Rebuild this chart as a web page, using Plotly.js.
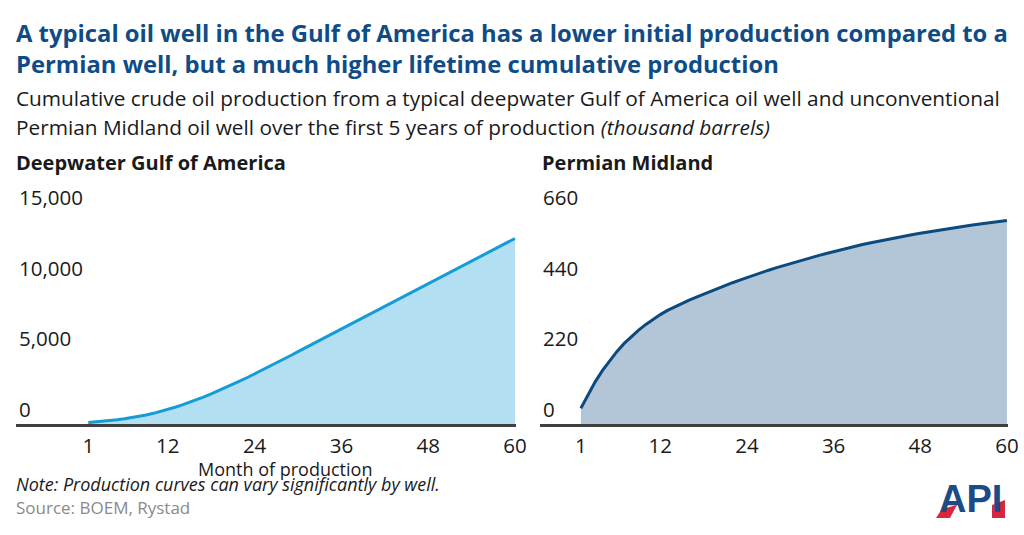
<!DOCTYPE html>
<html>
<head>
<meta charset="utf-8">
<script src="https://cdn.plot.ly/plotly-3.0.1.min.js"></script>
<style>
  html, body { margin: 0; padding: 0; background: #ffffff; }
  #chart { width: 1024px; height: 535px; }
</style>
</head>
<body>
<div id="chart"></div>
<script>
// ---------- Data ----------
const months = [1,2,3,4,5,6,7,8,9,10,11,12,13,14,15,16,17,18,19,20,
                21,22,23,24,25,26,27,28,29,30,31,32,33,34,35,36,37,38,39,40,
                41,42,43,44,45,46,47,48,49,50,51,52,53,54,55,56,57,58,59,60];

// Deepwater Gulf of America, cumulative (thousand barrels)
const gulfCumulative = [100,140,185,237,297,365,443,533,637,755,
                        887,1029,1183,1350,1530,1722,1924,2134,2352,2577,
                        2809,3047,3291,3541,3796,4055,4317,4582,4849,5116,
                        5383,5650,5917,6184,6451,6718,6985,7252,7519,7786,
                        8053,8320,8587,8854,9121,9388,9655,9922,10189,10456,
                        10723,10990,11257,11524,11791,12058,12325,12592,12859,13126];

// Permian Midland, cumulative (thousand barrels)
const permianCumulative = [49,93,132,167,198,226,251,273,292.5,310,
                           326,340.5,353.5,365,375.5,385.5,395,404.3,413.4,422.4,
                           431.2,439.8,448.1,456.2,464,471.5,478.8,485.9,492.8,499.5,
                           506,512.3,518.6,524.8,530.8,536.7,542.4,548,553.4,558.6,
                           563.6,568.4,573,577.4,581.7,585.9,590,594,597.8,601.5,
                           605.1,608.6,612,615.3,618.5,621.6,624.7,627.7,630.6,633.5];

const xTickVals = [1, 12, 24, 36, 48, 60];
const gulfTickVals = [0, 5000, 10000, 15000];
const permianTickVals = [0, 220, 440, 660];

const titleLine1 = "A typical oil well in the Gulf of America has a lower initial production compared to a";
const titleLine2 = "Permian well, but a much higher lifetime cumulative production";
const subtitleLine1 = "Cumulative crude oil production from a typical deepwater Gulf of America oil well and unconventional";
const subtitleLine2 = "Permian Midland oil well over the first 5 years of production <i>(thousand barrels)</i>";
const leftPanelTitle = "Deepwater Gulf of America";
const rightPanelTitle = "Permian Midland";
const xAxisLabel = "Month of production";
const noteText = "Note: Production curves can vary significantly by well.";
const sourceText = "Source: BOEM, Rystad";

// ---------- Layout helpers ----------
const W = 1024, H = 535;
const px = x => x / W;
const py = y => 1 - y / H;
const FONT = "'Open Sans', Lato, sans-serif";

const traces = [
  {
    x: months, y: gulfCumulative, xaxis: 'x', yaxis: 'y',
    type: 'scatter', mode: 'lines', fill: 'tozeroy',
    fillcolor: '#b3dff3',
    line: { color: '#169bd9', width: 3 },
    hoverinfo: 'x+y', showlegend: false
  },
  {
    x: months, y: permianCumulative, xaxis: 'x2', yaxis: 'y2',
    type: 'scatter', mode: 'lines', fill: 'tozeroy',
    fillcolor: '#b3c6d7',
    line: { color: '#0b4a7e', width: 3 },
    hoverinfo: 'x+y', showlegend: false
  }
];

const yTop = 175, yBottom = 424, tickTopPx = 212;
const gulfMax = 15000 * (yBottom - yTop) / (yBottom - tickTopPx);
const permMax = 660 * (yBottom - yTop) / (yBottom - tickTopPx);

const tickFont = { family: FONT, size: 20.5, color: '#1a1a1a' };

function textAnn(text, x, y, size, opts) {
  return Object.assign({
    text: text, x: px(x), y: py(y), xref: 'paper', yref: 'paper',
    xanchor: 'left', yanchor: 'middle', showarrow: false,
    font: { family: FONT, size: size, color: '#1a1a1a' }
  }, opts || {});
}

const layout = {
  width: W, height: H,
  margin: { l: 0, r: 0, t: 0, b: 0 },
  paper_bgcolor: '#ffffff', plot_bgcolor: '#ffffff',
  font: { family: FONT, color: '#1a1a1a' },
  showlegend: false,
  xaxis: {
    domain: [px(16), px(516)], range: [-9, 60.15],
    anchor: 'y', showgrid: false, zeroline: false,
    showline: true, linecolor: '#404040', linewidth: 3,
    tickmode: 'array', tickvals: xTickVals, ticks: '',
    tickfont: tickFont, ticklabelstandoff: 1, fixedrange: true
  },
  yaxis: {
    domain: [py(yBottom), py(yTop)], range: [0, gulfMax],
    anchor: 'x', showgrid: false, zeroline: false, showline: false,
    tickmode: 'array', tickvals: gulfTickVals, tickformat: ',d', ticks: '',
    ticklabelposition: 'inside top', tickfont: tickFont, fixedrange: true
  },
  xaxis2: {
    domain: [px(540), px(1008)], range: [-4.66, 60.15],
    anchor: 'y2', showgrid: false, zeroline: false,
    showline: true, linecolor: '#404040', linewidth: 3,
    tickmode: 'array', tickvals: xTickVals, ticks: '',
    tickfont: tickFont, ticklabelstandoff: 1, fixedrange: true
  },
  yaxis2: {
    domain: [py(yBottom), py(yTop)], range: [0, permMax],
    anchor: 'x2', showgrid: false, zeroline: false, showline: false,
    tickmode: 'array', tickvals: permianTickVals, ticks: '',
    ticklabelposition: 'inside top', tickfont: tickFont, fixedrange: true
  },
  annotations: [
    textAnn('<b>' + titleLine1 + '</b>', 14, 33, 23.8, { font: { family: FONT, size: 23.8, color: '#0f4c86' } }),
    textAnn('<b>' + titleLine2 + '</b>', 14, 64, 23.8, { font: { family: FONT, size: 23.8, color: '#0f4c86' } }),
    textAnn(subtitleLine1, 14, 98, 20.8),
    textAnn(subtitleLine2, 14, 127, 20.8),
    textAnn('<b>' + leftPanelTitle + '</b>', 14, 162, 20),
    textAnn('<b>' + rightPanelTitle + '</b>', 540, 162, 20),
    textAnn(xAxisLabel, 285, 468.5, 18, { xanchor: 'center' }),
    textAnn('<i>' + noteText + '</i>', 14, 484, 18),
    textAnn(sourceText, 14, 507, 17, { font: { family: FONT, size: 17, color: '#8a8a8a' } }),
    textAnn('<b>API</b>', 970, 499, 38, { xanchor: 'center',
      font: { family: "'Liberation Sans', Arial, sans-serif", size: 38, color: '#1d4b85' } })
  ],
  shapes: [
    // red accents of the logo
    { type: 'path', xref: 'paper', yref: 'paper',
      path: `M ${px(936)} ${py(518)} L ${px(944)} ${py(506)} L ${px(958)} ${py(503)} L ${px(950)} ${py(518)} Z`,
      fillcolor: '#d7263d', line: { width: 0 } },
    { type: 'path', xref: 'paper', yref: 'paper',
      path: `M ${px(992)} ${py(518)} L ${px(992)} ${py(505)} L ${px(1005)} ${py(500)} L ${px(1005)} ${py(518)} Z`,
      fillcolor: '#d7263d', line: { width: 0 } },
    { type: 'path', xref: 'paper', yref: 'paper',
      path: `M ${px(944)} ${py(505)} Q ${px(975)} ${py(494)} ${px(1004)} ${py(497)} L ${px(1004)} ${py(500)} Q ${px(975)} ${py(498)} ${px(946)} ${py(508)} Z`,
      fillcolor: '#ffffff', line: { width: 0 } }
  ]
};

Plotly.newPlot('chart', traces, layout, { displayModeBar: false, staticPlot: true });
</script>
</body>
</html>
